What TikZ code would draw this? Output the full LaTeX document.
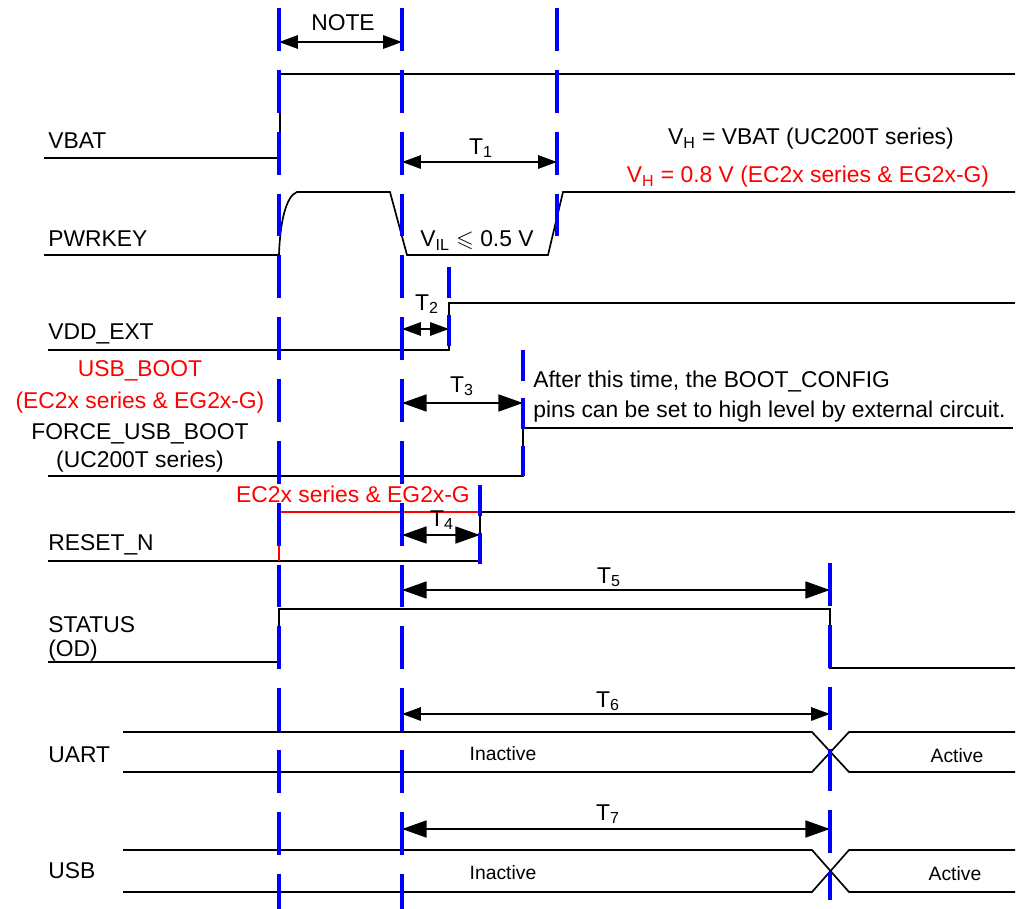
\documentclass[tikz,border=0pt]{standalone}
\usepackage{amssymb}
\usepackage{fontspec}
\setmainfont{Liberation Sans}
\usetikzlibrary{arrows.meta}

\begin{document}
\begin{tikzpicture}[x=0.02cm, y=-0.02cm,
        sig/.style = {line width=0.95pt},
        redsig/.style = {sig, red},
        bluemark/.style = {blue, line width=2.4pt, dash pattern=on 24.4pt off 10.8pt},
        shortmark/.style = {bluemark, dash pattern=on 17.6pt off 9.6pt},
        dimarrow/.style = {line width=1.2pt,
                           {Triangle[length=14pt,width=9.6pt]}-{Triangle[length=14pt,width=9.6pt]}},
        dimarrowsm/.style = {line width=1.2pt,
                           {Triangle[length=10.8pt,width=7.6pt]}-{Triangle[length=10.8pt,width=7.6pt]}},
        lbl/.style = {inner sep=0pt, font=\fontsize{13}{16}\selectfont},
        small/.style = {inner sep=0pt, font=\fontsize{11}{14}\selectfont}]
    \useasboundingbox (0,0) rectangle (1032,909);

    % signal names
    \node[lbl, anchor=base west] (vbat) at (48,149) {VBAT};
    \node[lbl, anchor=base west] (pwrkey) at (48,247) {PWRKEY};
    \node[lbl, anchor=base west] (vddext) at (48,339) {VDD\_EXT};
    \node[lbl, anchor=base, red] (usbboot) at (140,376) {USB\_BOOT};
    \node[lbl, anchor=base, red] (usbbootser) at (140,408) {(EC2x series \& EG2x-G)};
    \node[lbl, anchor=base] (forceboot) at (140,439) {FORCE\_USB\_BOOT};
    \node[lbl, anchor=base] (forcebootser) at (140,467) {(UC200T series)};
    \node[lbl, anchor=base west] (resetn) at (48,550) {RESET\_N};
    \node[lbl, anchor=base west] (status) at (48,632) {STATUS};
    \node[lbl, anchor=base west] (statusod) at (48,656) {(OD)};
    \node[lbl, anchor=base west] (uart) at (48,762) {UART};
    \node[lbl, anchor=base west] (usb) at (48,878) {USB};

    % waveforms
    \draw[sig] (44,158) -- (280,158) -- (280,74) -- (1015,74);
    \draw[sig] (44,255) -- (279,255) .. controls (280,222) and (286,196) .. (297,192)
        -- (390,192) -- (407,255) -- (548,255) -- (563,192) -- (1015,192);
    \draw[sig] (48,350) -- (449,350) -- (449,303) -- (1015,303);
    \draw[sig] (48,476) -- (523,476) -- (523,428) -- (1013,428);
    \draw[sig] (48,561) -- (480,561) -- (480,512) -- (1015,512);
    \draw[redsig] (279,561) -- (279,512) -- (480,512);
    \draw[sig] (48,662) -- (279,662) -- (279,609) -- (830,609) -- (830,668) -- (1015,668);
    \foreach \t/\b in {732/772, 850/892} {
        \draw[sig] (123,\t) -- (812,\t) -- (849,\b) -- (1015,\b);
        \draw[sig] (123,\b) -- (812,\b) -- (849,\t) -- (1015,\t);
    }

    % timing arrows
    \foreach \a/\b/\y/\s in {279/402/42/dimarrowsm, 402/557/162/dimarrowsm,
            402/449/329/dimarrowsm, 402/523/403/dimarrow, 402/480/535/dimarrow,
            402/830/590/dimarrow, 402/830/714/dimarrowsm, 402/830/829/dimarrow}
        \draw[\s] (\a,\y) -- (\b,\y);

    \node[lbl, anchor=base] (note) at (343,31) {NOTE};
    \node[lbl, anchor=base] (t1) at (481,154) {T\textsubscript{1}};
    \node[lbl, anchor=base] (vil) at (477,247) {V\textsubscript{IL} $\leqslant$ 0.5 V};
    \node[lbl, anchor=base] (vhvbat) at (811,145) {V\textsubscript{H} = VBAT (UC200T series)};
    \node[lbl, anchor=base, red] (vhec) at (808,183) {V\textsubscript{H} = 0.8 V (EC2x series \& EG2x-G)};
    \node[lbl, anchor=base] (t2) at (427,310) {T\textsubscript{2}};
    \node[lbl, anchor=base] (t3) at (462,392) {T\textsubscript{3}};
    \node[lbl, anchor=base west] (after) at (533,387) {After this time, the BOOT\_CONFIG};
    \node[lbl, anchor=base west] (afterpins) at (533,417) {pins can be set to high level by external circuit.};
    \node[lbl, anchor=base, red] (ecreset) at (353,502) {EC2x series \& EG2x-G};
    \node[lbl, anchor=base] (t4) at (442,526) {T\textsubscript{4}};
    \node[lbl, anchor=base] (t5) at (609,583) {T\textsubscript{5}};
    \node[lbl, anchor=base] (t6) at (608,707) {T\textsubscript{6}};
    \node[lbl, anchor=base] (t7) at (608,820) {T\textsubscript{7}};
    \node[small, anchor=base] (uartoff) at (503,760) {Inactive};
    \node[small, anchor=base] (uarton) at (957,762) {Active};
    \node[small, anchor=base] (usboff) at (503,879) {Inactive};
    \node[small, anchor=base] (usbon) at (955,880) {Active};

    % time marks
    \foreach \x/\ya/\yb in {279/8/909, 402/8/909, 557/8/238, 830/563/900}
        \draw[bluemark] (\x,\ya) -- (\x,\yb);
    \foreach \x/\ya/\yb in {449/267/348, 523/350/476, 480/485/565}
        \draw[shortmark] (\x,\ya) -- (\x,\yb);
\end{tikzpicture}
\end{document}
